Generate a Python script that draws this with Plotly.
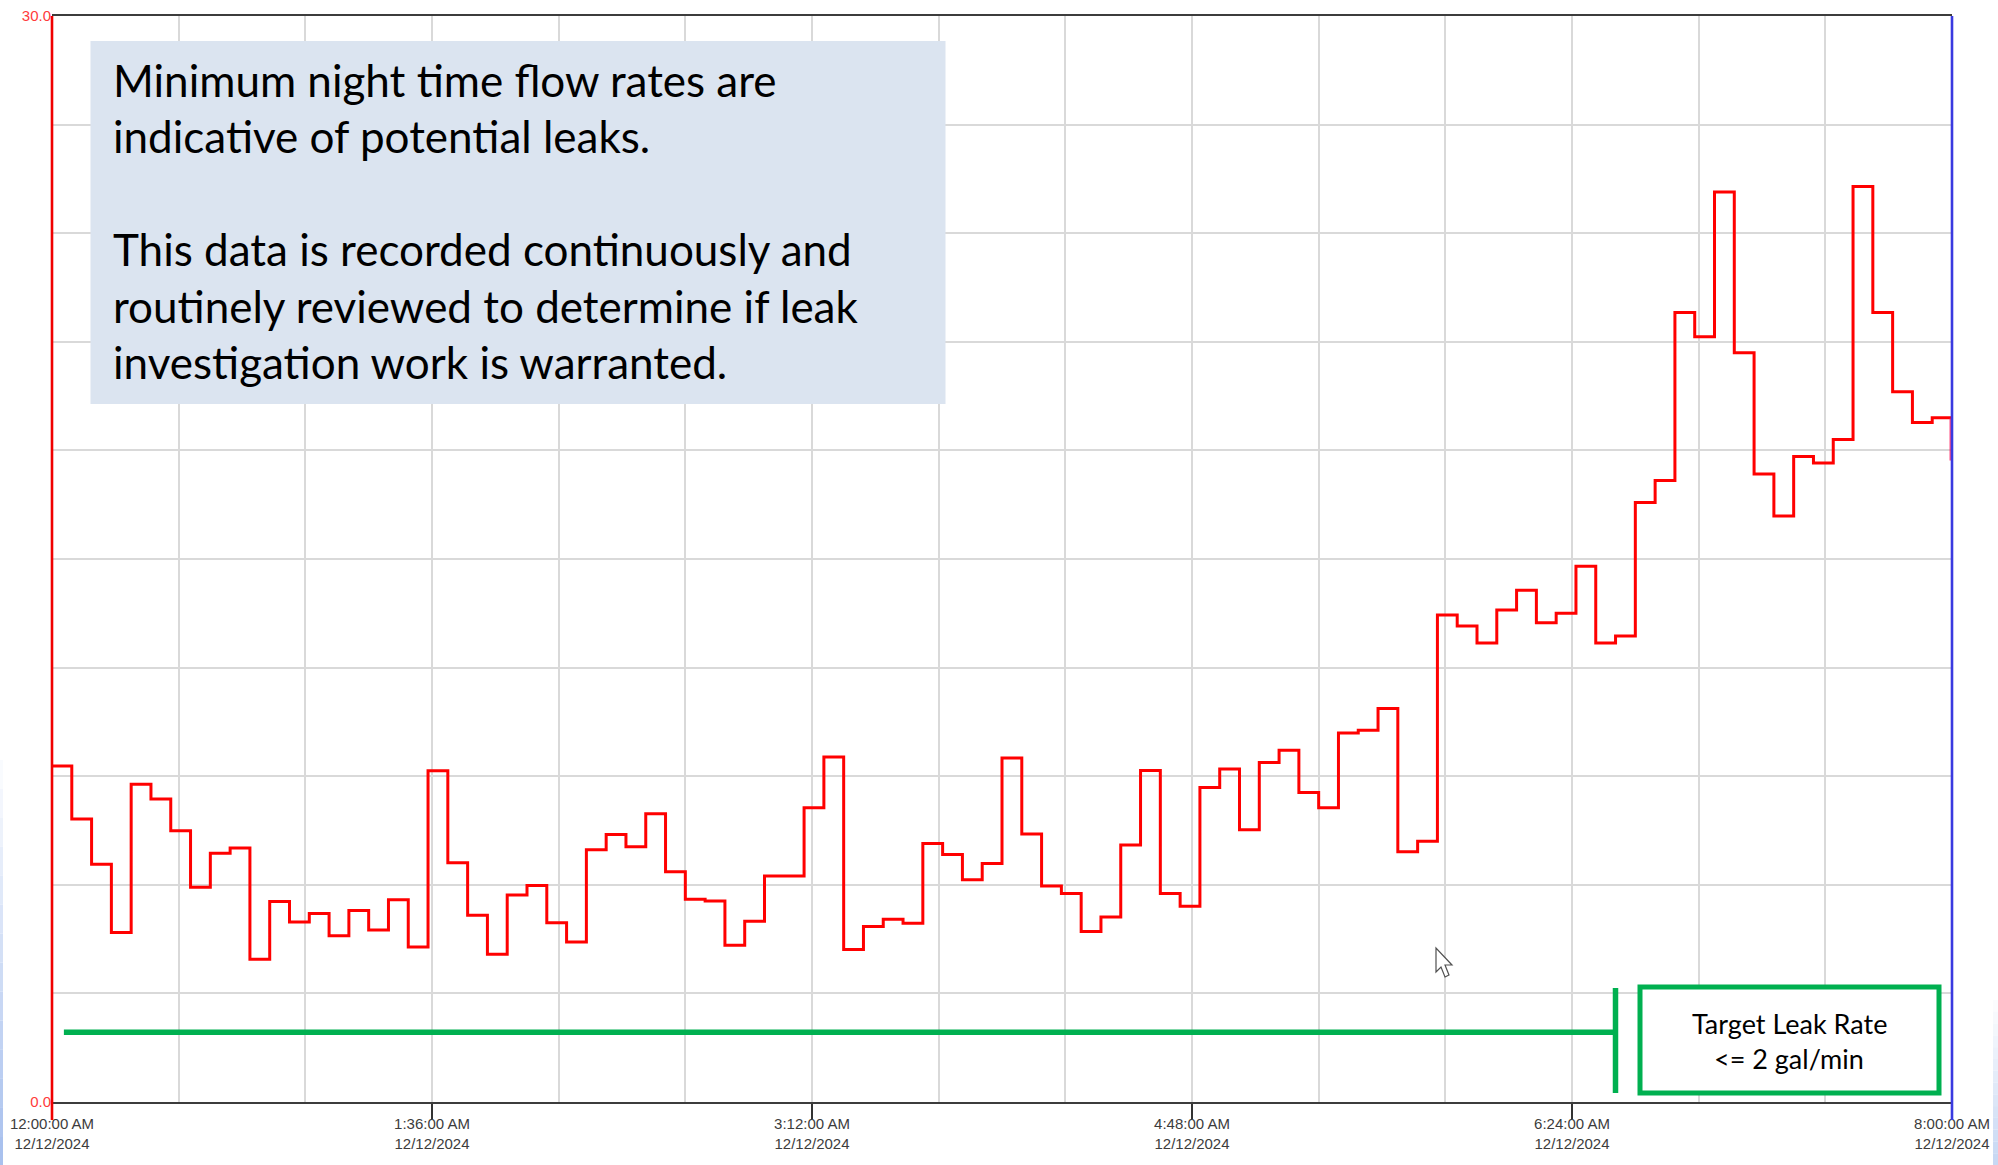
import pandas as pd
import plotly.graph_objects as go

START = "2024-12-12 00:00:00"
END = "2024-12-12 08:00:00"

flow_values = [
    9.28, 7.82, 6.57, 4.68, 8.78, 8.37, 7.49, 5.93, 6.87, 7.02, 3.94, 5.54,
    4.97, 5.21, 4.59, 5.29, 4.75, 5.59, 4.28, 9.15, 6.61, 5.16, 4.08, 5.72,
    5.98, 4.95, 4.42, 6.97, 7.39, 7.05, 7.96, 6.36, 5.60, 5.55, 4.33, 4.99,
    6.24, 6.24, 8.13, 9.53, 4.21, 4.85, 5.05, 4.94, 7.14, 6.84, 6.14, 6.59,
    9.50, 7.40, 5.97, 5.76, 4.71, 5.11, 7.10, 9.16, 5.76, 5.41, 8.69, 9.20,
    7.52, 9.38, 9.72, 8.55, 8.13, 10.19, 10.27, 10.87, 6.91, 7.20, 13.45, 13.15,
    12.68, 13.59, 14.14, 13.24, 13.50, 14.80, 12.68, 12.87, 16.56, 17.17, 21.81, 21.14,
    25.14, 20.70, 17.35, 16.19, 17.83, 17.65, 18.30, 25.29, 21.81, 19.62, 18.77, 18.90,
]
end_drop_value = 17.72
target_value = 1.93
target_start = "2024-12-12 00:03:00"
target_end = "2024-12-12 06:35:00"

x_tick_times = ["2024-12-12 00:00:00", "2024-12-12 01:36:00", "2024-12-12 03:12:00",
                "2024-12-12 04:48:00", "2024-12-12 06:24:00", "2024-12-12 08:00:00"]
x_tick_labels = ["12:00:00 AM<br>12/12/2024", "1:36:00 AM<br>12/12/2024", "3:12:00 AM<br>12/12/2024",
                 "4:48:00 AM<br>12/12/2024", "6:24:00 AM<br>12/12/2024", "8:00:00 AM<br>12/12/2024"]
y_tick_values = [0, 30]
y_tick_labels = ["0.0", "30.0"]

note_lines = [
    "Minimum night time flow rates are",
    "indicative of potential leaks.",
    "This data is recorded continuously and",
    "routinely reviewed to determine if leak",
    "investigation work is warranted.",
]
target_lines = ["Target Leak Rate", "<= 2 gal/min"]

W, H = 1998, 1165
L, R, T, B = 52, 1952, 16, 1102


def px(v):
    return (v - L) / (R - L)


def py(v):
    return (B - v) / (B - T)


def edge_fade(x0, x1, y_start, rgb_end, steps=14):
    """Stepped pale-blue fade along a window edge, white at the top to rgb_end at the bottom."""
    out = []
    for k in range(steps):
        f = (k + 1) / steps
        col = tuple(round(255 + (c - 255) * f) for c in rgb_end)
        ya = y_start + (H - y_start) * k / steps
        yb = y_start + (H - y_start) * (k + 1) / steps
        out.append(dict(type="rect", xref="paper", yref="paper", x0=px(x0), x1=px(x1), y0=py(yb), y1=py(ya),
                        fillcolor="rgb({},{},{})".format(*col), line=dict(width=0), layer="below"))
    return out


GREEN = "#00b050"
times = list(pd.date_range(START, periods=len(flow_values), freq="5min"))

fig = go.Figure()
fig.add_trace(go.Scatter(
    x=times + [pd.Timestamp(END)], y=flow_values + [flow_values[-1]],
    mode="lines", line=dict(color="#ff0000", width=3, shape="hv"), showlegend=False))
fig.add_trace(go.Scatter(
    x=[END, END], y=[flow_values[-1], end_drop_value],
    mode="lines", line=dict(color="rgba(255,20,90,0.75)", width=5), showlegend=False, cliponaxis=False))
fig.add_trace(go.Scatter(
    x=[target_start, target_end], y=[target_value, target_value],
    mode="lines", line=dict(color=GREEN, width=5.5), showlegend=False))

shapes = edge_fade(0, 3, 760, (169, 193, 238)) + edge_fade(1993, 1998, 1000, (200, 216, 243)) + [
    dict(type="line", xref="paper", yref="paper", x0=0, x1=0, y0=py(1120), y1=1,
         line=dict(color="#f00000", width=2.6)),
    dict(type="line", xref="paper", yref="paper", x0=1, x1=1, y0=py(1120), y1=1,
         line=dict(color="#3a3ae0", width=2.6)),
    dict(type="rect", xref="paper", yref="paper", x0=px(90.5), x1=px(945.5), y0=py(404), y1=py(41),
         fillcolor="#dbe4f0", line=dict(width=0)),
    dict(type="line", xref="paper", yref="paper", x0=px(1615.5), x1=px(1615.5), y0=py(1093), y1=py(988),
         line=dict(color=GREEN, width=5.5)),
    dict(type="rect", xref="paper", yref="paper", x0=px(1640), x1=px(1939), y0=py(1093), y1=py(987),
         fillcolor="#ffffff", line=dict(color=GREEN, width=5)),
    dict(type="path", xref="paper", yref="paper",
         path="M {:.5f} {:.5f} L {:.5f} {:.5f} L {:.5f} {:.5f} L {:.5f} {:.5f} L {:.5f} {:.5f} L {:.5f} {:.5f} L {:.5f} {:.5f} Z".format(
             px(1436), py(948), px(1436), py(972), px(1441), py(967), px(1445), py(977),
             px(1449), py(975), px(1445), py(965), px(1452), py(965)),
         fillcolor="#ffffff", line=dict(color="#505050", width=1.2)),
]

annotations = []
for text, yc in zip(note_lines, [80.5, 136.5, 249, 306, 362]):
    annotations.append(dict(text=text, xref="paper", yref="paper", x=px(111), y=py(yc), xanchor="left",
                            yanchor="middle", showarrow=False,
                            font=dict(family="Lato", size=44, color="#000000")))
for text, yc in zip(target_lines, [1023, 1058]):
    annotations.append(dict(text=text, xref="paper", yref="paper", x=px(1789), y=py(yc), xanchor="center",
                            yanchor="middle", showarrow=False,
                            font=dict(family="Lato", size=27, color="#000000")))

GRID = "#d9d9d9"
fig.update_layout(
    width=W, height=H, autosize=False,
    margin=dict(l=L, r=W - R, t=T, b=H - B, autoexpand=False),
    paper_bgcolor="#ffffff", plot_bgcolor="#ffffff",
    shapes=shapes, annotations=annotations, showlegend=False,
    xaxis=dict(
        type="date", range=[START, END], automargin=False,
        tickmode="array", tickvals=x_tick_times, ticktext=x_tick_labels,
        ticks="outside", ticklen=15, tickwidth=1.5, tickcolor="#333333",
        tickfont=dict(family="Liberation Sans", size=15, color="#3c3c3c"),
        ticklabelstandoff=-8,
        showgrid=True, gridcolor=GRID, gridwidth=1.5,
        minor=dict(tickmode="linear", tick0=START, dtick=32 * 60000, showgrid=True, gridcolor=GRID,
                   gridwidth=1.5, ticks=""),
        showline=True, linecolor="#3c3c3c", linewidth=2, mirror=True, zeroline=False,
    ),
    yaxis=dict(
        range=[0, 30], automargin=False,
        tickmode="array", tickvals=y_tick_values, ticktext=y_tick_labels,
        ticks="", tickfont=dict(family="Liberation Sans", size=15, color="#ff3b3b"),
        showgrid=False,
        minor=dict(tickmode="linear", tick0=0, dtick=3, showgrid=True, gridcolor=GRID, gridwidth=1.5, ticks=""),
        showline=False, zeroline=False,
    ),
)

fig.write_html(
    "out.html",
    config={"displayModeBar": False},
    post_script=("document.body.style.margin='0';document.body.style.overflow='hidden';"
                 "var s=document.createElement('style');s.textContent='text{font-variant-ligatures:none}';"
                 "document.head.appendChild(s);"),
)
